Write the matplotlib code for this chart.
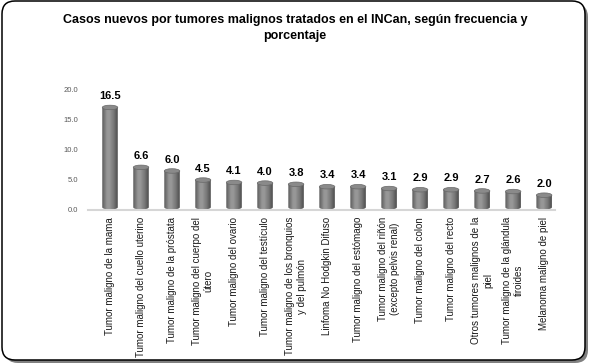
import matplotlib
matplotlib.use("Agg")
import matplotlib.pyplot as plt
import numpy as np
from matplotlib.patches import FancyBboxPatch, Ellipse, PathPatch
from matplotlib.path import Path
from matplotlib.transforms import IdentityTransform
from matplotlib.colors import LinearSegmentedColormap

plt.rcParams['font.family'] = ['Liberation Sans', 'DejaVu Sans']

titulo = "Casos nuevos por tumores malignos tratados en el INCan, según frecuencia y\nporcentaje"
tumores = [
    "Tumor maligno de la mama",
    "Tumor maligno del cuello uterino",
    "Tumor maligno de la próstata",
    "Tumor maligno del cuerpo del\nútero",
    "Tumor maligno del ovario",
    "Tumor maligno del testículo",
    "Tumor maligno de los bronquios\ny del pulmón",
    "Linfoma No Hodgkin Difuso",
    "Tumor maligno del estómago",
    "Tumor maligno del riñón\n(excepto pelvis renal)",
    "Tumor maligno del colon",
    "Tumor maligno del recto",
    "Otros tumores malignos de la\npiel",
    "Tumor maligno de la glándula\ntiroides",
    "Melanoma maligno de piel",
]
porcentaje = [16.5, 6.6, 6.0, 4.5, 4.1, 4.0, 3.8, 3.4, 3.4, 3.1, 2.9, 2.9, 2.7, 2.6, 2.0]
yticks = [0, 5, 10, 15, 20]

W, H = 590, 363
fig = plt.figure(figsize=(W / 100, H / 100), dpi=100)

# rounded frame with a shadow on the right / bottom
shadow = FancyBboxPatch((5, 0), 583, 359, boxstyle="round,pad=0,rounding_size=13",
                        transform=IdentityTransform(), fc='#808080', ec='none', zorder=-3)
frame = FancyBboxPatch((2, 3), 583, 359, boxstyle="round,pad=0,rounding_size=13",
                       transform=IdentityTransform(), fc='white', ec='black', lw=1.1, zorder=-2)
fig.add_artist(shadow)
fig.add_artist(frame)

fig.text(0.5, 1 - 28 / H, titulo, ha='center', va='center', fontsize=9,
         fontweight='bold', linespacing=1.5)

ax = fig.add_axes([88 / W, 1 - 210 / H, (555 - 88) / W, (210 - 89) / H])
ax.patch.set_alpha(0)

cmap = LinearSegmentedColormap.from_list(
    'cil', [(0, '#5a5a5a'), (0.3, '#959595'), (0.45, '#999999'), (0.75, '#767676'), (1, '#4c4c4c')])
grad = np.linspace(0, 1, 64).reshape(1, -1)

x = np.arange(len(porcentaje))
w = 0.5       # cylinder width (category units)
h = 0.75      # ellipse height (value units)
base = 0.45   # small lift of the cylinders above the axis line

for xi, v in zip(x, porcentaje):
    left, right = xi - w / 2, xi + w / 2
    im = ax.imshow(grad, extent=[left, right, base - h / 2, base + v], aspect='auto',
                   cmap=cmap, interpolation='bilinear', zorder=2)
    t = np.linspace(np.pi, 2 * np.pi, 40)
    verts = [(left, base + v)] + list(zip(xi + w / 2 * np.cos(t), base + h / 2 * np.sin(t))) \
        + [(right, base + v), (left, base + v)]
    clip = PathPatch(Path(verts), transform=ax.transData, fc='none', ec='none')
    ax.add_patch(clip)
    im.set_clip_path(clip)
    ax.add_patch(Ellipse((xi, base + v), w, h, fc='#8a8a8a', ec='#686868', lw=0.5, zorder=3))
    ax.annotate(f'{v:.1f}', (xi, base + v + h / 2), xytext=(0, 3), textcoords='offset points',
                ha='center', va='bottom', fontsize=8, fontweight='bold', color='black')

ax.set_xlim(-0.71, len(porcentaje) - 1 + 0.35)
ax.set_ylim(0, 20)
for s in ['top', 'right', 'left']:
    ax.spines[s].set_visible(False)
ax.spines['bottom'].set_color('#d6d6d6')
ax.spines['bottom'].set_linewidth(1.5)

ax.set_yticks(yticks)
ax.set_yticklabels([f'{t:.1f}' for t in yticks])
ax.tick_params(axis='y', length=0, pad=7, labelsize=5.5, labelcolor='#595959')
ax.set_xticks(x)
ax.set_xticklabels(tumores)
ax.tick_params(axis='x', length=0, pad=5, labelsize=7, labelcolor='#1a1a1a')
plt.setp(ax.get_xticklabels(), rotation=90, ha='center', va='top', multialignment='center')

fig.savefig('out.png', dpi=100)
